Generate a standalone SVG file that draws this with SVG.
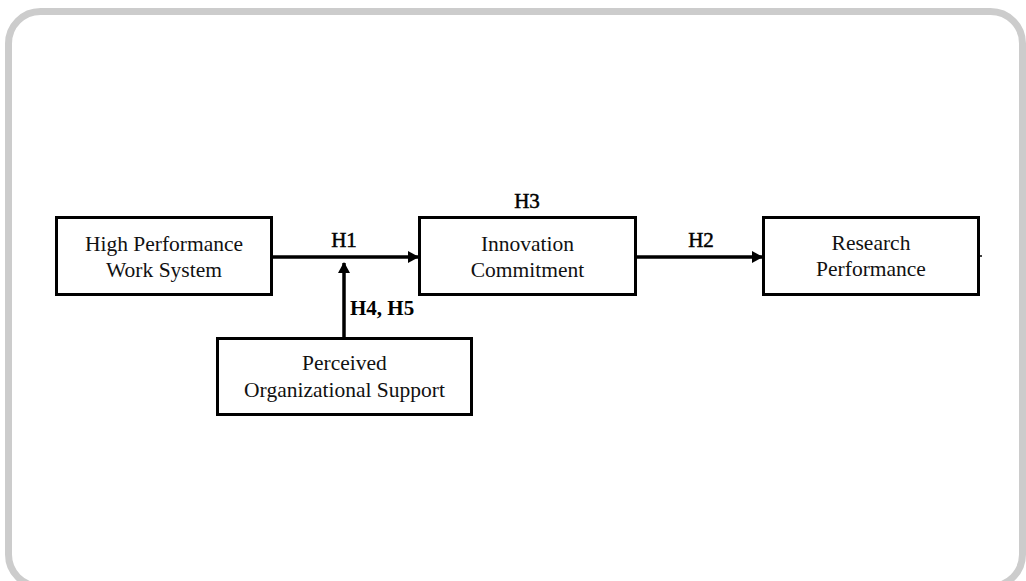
<svg xmlns="http://www.w3.org/2000/svg" width="1026" height="581" viewBox="0 0 1026 581">
  <style>
    .box { fill: #fff; stroke: #000; stroke-width: 3; }
    .txt { font-family: "Liberation Serif", "Times New Roman", serif; font-size: 21.5px; fill: #111; text-anchor: middle; }
    .lbl { font-family: "Liberation Serif", "Times New Roman", serif; font-size: 21px; fill: #000; stroke: #000; stroke-width: 0.5; }
    .lblb { font-family: "Liberation Serif", "Times New Roman", serif; font-size: 21px; fill: #000; font-weight: bold; }
    .conn { stroke: #000; stroke-width: 3.5; fill: none; }
  </style>
  <defs>
    <marker id="arrow" markerUnits="userSpaceOnUse" markerWidth="11" markerHeight="12" refX="10" refY="6" orient="auto">
      <path d="M0,0 L11,6 L0,12 z" fill="#000"/>
    </marker>
  </defs>
  <rect x="0" y="0" width="1026" height="581" fill="#fff"/>
  <rect x="8.5" y="11.5" width="1014" height="575" rx="32" ry="32" fill="#fff" stroke="#cccccc" stroke-width="7"/>

  <g id="connectors">
    <line class="conn" x1="273" y1="257" x2="418" y2="257" marker-end="url(#arrow)"/>
    <line class="conn" x1="637" y1="257" x2="762" y2="257" marker-end="url(#arrow)"/>
    <line class="conn" x1="344" y1="337" x2="344" y2="263" marker-end="url(#arrow)"/>
    <line stroke="#000" stroke-width="1.5" x1="980" y1="256" x2="982" y2="256"/>
  </g>

  <g id="hpws">
    <rect class="box" x="56.5" y="217.5" width="215" height="77"/>
    <text class="txt" x="164" y="251">High Performance</text>
    <text class="txt" x="164" y="277">Work System</text>
  </g>
  <g id="ic">
    <rect class="box" x="419.5" y="217.5" width="216" height="77"/>
    <text class="txt" x="527.5" y="251">Innovation</text>
    <text class="txt" x="527.5" y="277">Commitment</text>
  </g>
  <g id="rp">
    <rect class="box" x="763.5" y="217.5" width="215" height="77"/>
    <text class="txt" x="871" y="250">Research</text>
    <text class="txt" x="871" y="276">Performance</text>
  </g>
  <g id="pos">
    <rect class="box" x="217.5" y="338.5" width="254" height="76"/>
    <text class="txt" x="344.5" y="370">Perceived</text>
    <text class="txt" x="344.5" y="397">Organizational Support</text>
  </g>

  <g id="labels">
    <text class="lbl" x="344" y="247" text-anchor="middle">H1</text>
    <text class="lbl" x="701" y="247" text-anchor="middle">H2</text>
    <text class="lbl" x="527" y="208" text-anchor="middle">H3</text>
    <text class="lblb" x="350" y="315">H4, H5</text>
  </g>
</svg>
